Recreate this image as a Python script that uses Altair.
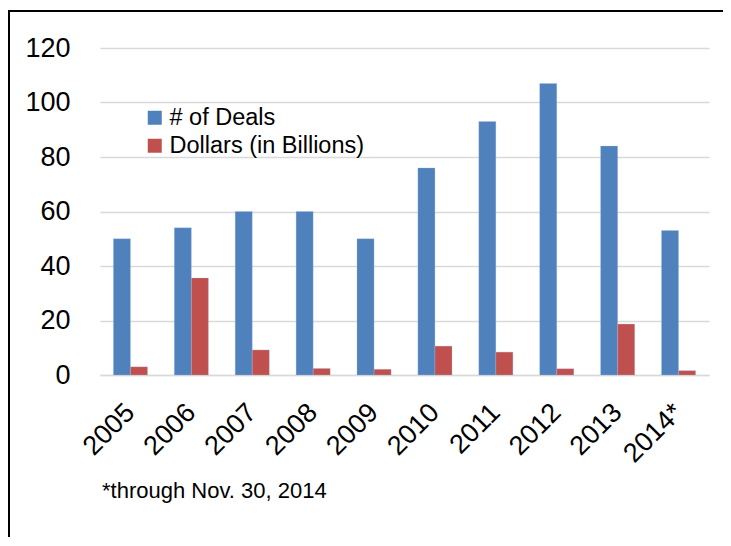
import altair as alt
import pandas as pd

years = ["2005", "2006", "2007", "2008", "2009", "2010", "2011", "2012", "2013", "2014*"]
deals = [50, 54, 60, 60, 50, 76, 93, 107, 84, 53]
dollars = [3.0, 35.6, 9.2, 2.4, 2.1, 10.6, 8.4, 2.3, 18.7, 1.6]
series = ["# of Deals", "Dollars (in Billions)"]
colors = ["#4F81BD", "#C0504D"]
footnote = "*through Nov. 30, 2014"

rows = []
for y, d, m in zip(years, deals, dollars):
    rows.append({"Year": y, "Series": series[0], "Value": d})
    rows.append({"Year": y, "Series": series[1], "Value": m})
df = pd.DataFrame(rows)

FONT = "Liberation Sans"

bars = alt.Chart(df).mark_bar(stroke="#A7C0DE", strokeWidth=0.5, strokeOpacity=0.6).encode(
    x=alt.X("Year:N", sort=years, title=None,
            scale=alt.Scale(paddingInner=0.44, paddingOuter=0.22),
            axis=alt.Axis(labelAngle=-45, labelAlign="right", labelBaseline="middle",
                          labelPadding=33, ticks=False, domainColor="#D9D9D9",
                          domainWidth=1.5, labelFontSize=27, labelFont=FONT,
                          labelColor="black")),
    xOffset=alt.XOffset("Series:N", sort=series, scale=alt.Scale(paddingInner=0, paddingOuter=0)),
    y=alt.Y("Value:Q", title=None,
            scale=alt.Scale(domain=[0, 120]),
            axis=alt.Axis(values=[0, 20, 40, 60, 80, 100, 120], domain=False, ticks=False,
                          gridColor="#D9D9D9", gridWidth=1.5, labelPadding=30,
                          labelFontSize=27, labelFont=FONT, labelColor="black")),
    color=alt.Color("Series:N", sort=series, title=None,
                    scale=alt.Scale(domain=series, range=colors),
                    legend=alt.Legend(orient="none", legendX=43, legendY=58,
                                      symbolType="square", symbolSize=196,
                                      symbolStrokeWidth=0, labelFontSize=23.5,
                                      labelFont=FONT, labelColor="black", labelLimit=0,
                                      labelOffset=3, rowPadding=3, padding=0)),
)

note = alt.Chart(pd.DataFrame({"t": [footnote]})).mark_text(
    align="left", baseline="alphabetic", fontSize=22, font=FONT, color="black"
).encode(x=alt.value(2), y=alt.value(450), text="t:N")

border_left = alt.Chart(pd.DataFrame({"a": [0]})).mark_rule(color="black", strokeWidth=2).encode(
    x=alt.value(-91), y=alt.value(-37), y2=alt.value(520))
border_top = alt.Chart(pd.DataFrame({"a": [0]})).mark_rule(color="black", strokeWidth=2).encode(
    x=alt.value(-92), x2=alt.value(640), y=alt.value(-37))

chart = alt.layer(bars, note, border_left, border_top).properties(
    width=609, height=327,
    autosize=alt.AutoSizeParams(type="none"),
    padding={"left": 92, "top": 40, "right": 14, "bottom": 162},
).configure_view(stroke=None)

chart.save("out.html", embed_options={"renderer": "svg", "actions": False})
